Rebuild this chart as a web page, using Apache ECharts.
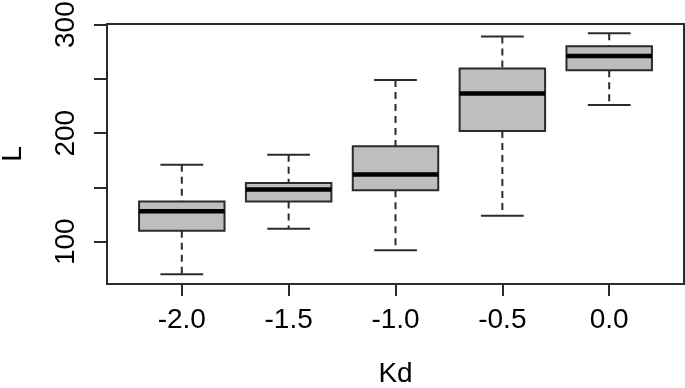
<!DOCTYPE html>
<html>
<head>
<meta charset="utf-8">
<script src="https://cdn.jsdelivr.net/npm/echarts@6/dist/echarts.min.js"></script>
<style>
  html, body { margin: 0; padding: 0; background: #fff; }
  #chart { width: 685px; height: 388px; }
</style>
</head>
<body>
<div id="chart"></div>
<script>
// categories (Kd) and their positions on the x scale
const kdLabels = ['-2.0', '-1.5', '-1.0', '-0.5', '0.0'];
const kdPos = [1, 2, 3, 4, 5];

// box statistics for L
const whiskerLow = [70, 112, 92, 124, 226];
const q1 = [110, 137, 147.5, 202, 258];
const median = [128, 148, 162, 236.5, 271];
const q3 = [137, 154, 188, 259.5, 280];
const whiskerHigh = [171, 180, 249, 289, 292];

// tick values
const yTicks = [100, 150, 200, 250, 300];
const yLabels = [100, 200, 300];

const boxData = kdPos.map((x, i) => [x, whiskerLow[i], q1[i], median[i], q3[i], whiskerHigh[i]]);

const ink = '#2b2b2b';
const font = 'Liberation Sans, Arial, sans-serif';

function renderBox(params, api) {
  const x = api.value(0);
  const lo = api.coord([x, api.value(1)]);
  const b1 = api.coord([x, api.value(2)]);
  const md = api.coord([x, api.value(3)]);
  const b3 = api.coord([x, api.value(4)]);
  const hi = api.coord([x, api.value(5)]);
  const unit = api.size([1, 0])[0];
  const hw = unit * 0.4;   // box half width
  const sw = unit * 0.2;   // staple half width
  const cx = md[0];
  const dash = { stroke: ink, lineWidth: 2, lineDash: [7, 5] };
  const solid = { stroke: ink, lineWidth: 2 };
  return {
    type: 'group',
    children: [
      { type: 'line', shape: { x1: cx, y1: hi[1], x2: cx, y2: b3[1] }, style: dash },
      { type: 'line', shape: { x1: cx, y1: b1[1], x2: cx, y2: lo[1] }, style: dash },
      { type: 'line', shape: { x1: cx - sw, y1: hi[1], x2: cx + sw, y2: hi[1] }, style: solid },
      { type: 'line', shape: { x1: cx - sw, y1: lo[1], x2: cx + sw, y2: lo[1] }, style: solid },
      { type: 'rect', shape: { x: cx - hw, y: b3[1], width: 2 * hw, height: b1[1] - b3[1] },
        style: { fill: '#bebebe', stroke: ink, lineWidth: 2 } },
      { type: 'line', shape: { x1: cx - hw, y1: md[1], x2: cx + hw, y2: md[1] },
        style: { stroke: '#000', lineWidth: 4.5 } }
    ]
  };
}

const myChart = echarts.init(document.getElementById('chart'), null, { renderer: 'canvas' });
const option = {
  animation: false,
  backgroundColor: '#fff',
  textStyle: { fontFamily: font },
  grid: {
    left: 107,
    right: 1,
    top: 24,
    bottom: 104,
    outerBoundsMode: 'none',
    containLabel: false,
    show: true,
    borderColor: ink,
    borderWidth: 2,
    backgroundColor: 'transparent'
  },
  xAxis: {
    type: 'value',
    min: 0.3,
    max: 5.7,
    name: 'Kd',
    nameLocation: 'middle',
    nameGap: 76,
    nameTextStyle: { fontSize: 28, color: '#000', fontFamily: font },
    axisLine: { show: false },
    splitLine: { show: false },
    axisTick: {
      show: true,
      customValues: kdPos,
      length: 12,
      inside: false,
      lineStyle: { color: ink, width: 2 }
    },
    axisLabel: {
      customValues: kdPos,
      margin: 22,
      fontSize: 28,
      color: '#000',
      fontFamily: font,
      formatter: (v) => kdLabels[Math.round(v) - 1]
    }
  },
  yAxis: {
    type: 'value',
    min: 61,
    max: 300.6,
    name: 'L',
    nameLocation: 'middle',
    nameGap: 80,
    nameRotate: 90,
    nameTextStyle: { fontSize: 28, color: '#000', fontFamily: font },
    axisLine: { show: false },
    splitLine: { show: false },
    axisTick: {
      show: true,
      customValues: yTicks,
      length: 13,
      inside: false,
      lineStyle: { color: ink, width: 2 }
    },
    axisLabel: {
      customValues: yLabels,
      rotate: 90,
      margin: 27,
      fontSize: 28,
      color: '#000',
      fontFamily: font
    }
  },
  series: [
    {
      type: 'custom',
      renderItem: renderBox,
      encode: { x: 0, y: [1, 2, 3, 4, 5] },
      data: boxData
    }
  ]
};
myChart.setOption(option, true);
window.addEventListener('resize', () => {
  myChart.resize();
});
</script>
</body>
</html>
